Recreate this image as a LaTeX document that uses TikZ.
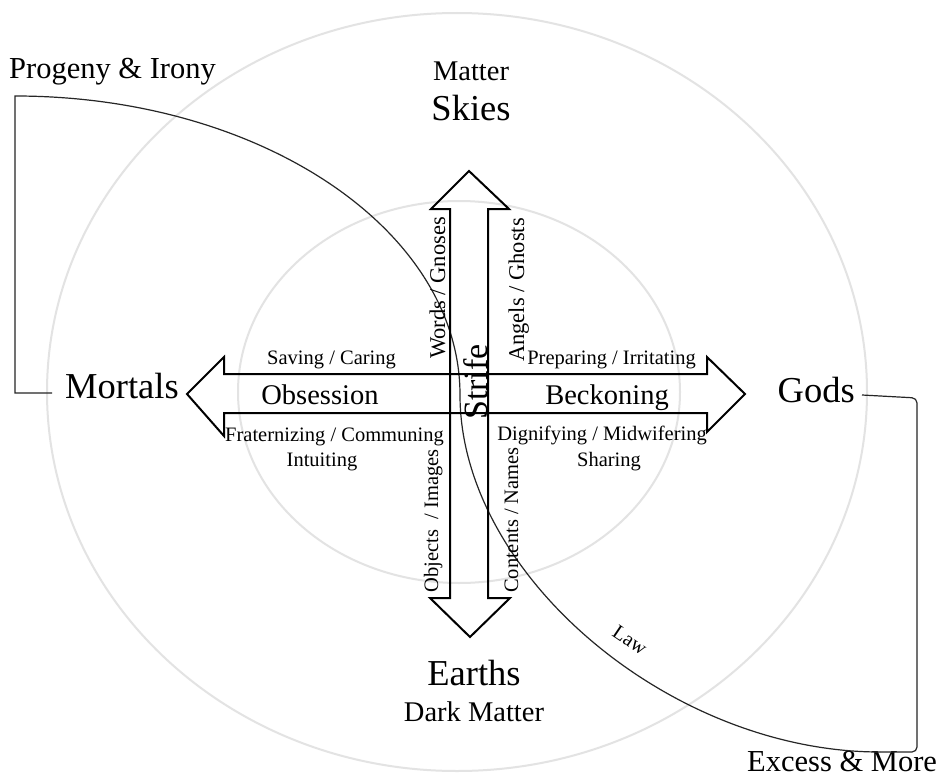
\documentclass[tikz,border=0pt]{standalone}
\usepackage{fontspec}
\setmainfont{Liberation Serif}
\begin{document}
\begin{tikzpicture}[x=1pt,y=-1pt,
  ring/.style={draw=black!11, line width=2pt},
  blockarrow/.style={draw=black, line width=2pt, line join=miter},
  link/.style={draw=black!85, line width=1.2pt},
  biglabel/.style={font=\fontsize{36.5}{40}\selectfont, inner sep=0pt},
  cornerlabel/.style={font=\fontsize{30.5}{34}\selectfont, inner sep=0pt},
  midlabel/.style={font=\fontsize{28.5}{32}\selectfont, inner sep=0pt},
  smalllabel/.style={font=\fontsize{20.5}{24}\selectfont, inner sep=0pt},
  uplabel/.style={font=\fontsize{22.5}{26}\selectfont, inner sep=0pt},
  strifelabel/.style={font=\fontsize{34}{38}\selectfont, inner sep=0pt}]
\useasboundingbox (0,0) rectangle (942,776);
\fill[white] (0,0) rectangle (942,776);

% rings
\draw[ring] (457,392) ellipse [x radius=410, y radius=379];
\draw[ring] (459,392) ellipse [x radius=221, y radius=191];

% labels
\node[cornerlabel, anchor=base west] (progeny) at (9,78) {Progeny \& Irony};
\node[midlabel, anchor=base] (matter) at (471,81) {Matter};
\node[biglabel, anchor=base] (skies) at (471,120) {Skies};
\node[biglabel, anchor=base west] (mortals) at (65,398) {Mortals};
\node[biglabel, anchor=base east] (gods) at (855,402) {Gods};
\node[biglabel, anchor=base] (earths) at (474,685) {Earths};
\node[midlabel, anchor=base] (darkmatter) at (474,721) {Dark Matter};
\node[cornerlabel, anchor=base west] (excess) at (747,771) {Excess \& More};

% connector coordinates
\coordinate (mortalsend) at (52,393);
\coordinate (godsend) at (862,395);
\coordinate (ltop) at (15,96);
\coordinate (lowend) at (880,752);

% the long connector
\draw[link] (mortalsend) -- (15,393) -- (ltop)
  arc[start angle=270, end angle=360, x radius=445, y radius=299]
  .. controls (460,574) and (670,752) .. (lowend);
\draw[link, rounded corners=5pt] (lowend) -- (917,752) -- (917,398) -- (godsend);

% block arrows
\draw[blockarrow] (224,374) -- (707,374) -- (707,357) -- (745,394) -- (707,432)
  -- (707,413) -- (224,413) -- (224,436) -- (187,394) -- (224,357) -- cycle;
\draw[blockarrow] (450,209) -- (431,209) -- (469,171) -- (509,209) -- (488,209)
  -- (488,598) -- (510,598) -- (470,637) -- (430,598) -- (450,598) -- cycle;

% arrow texts
\node[midlabel, anchor=base] (obsession) at (320,404) {Obsession};
\node[midlabel, anchor=base] (beckoning) at (607,404) {Beckoning};
\node[strifelabel, anchor=base, rotate=90] (strife) at (487,382) {Strife};

\node[smalllabel, anchor=base west] (saving) at (267,364) {Saving / Caring};
\node[smalllabel, anchor=base east] (preparing) at (696,364) {Preparing / Irritating};
\node[smalllabel, anchor=base west] (fraternizing) at (225,441) {Fraternizing / Communing};
\node[smalllabel, anchor=base east] (dignifying) at (707,440) {Dignifying / Midwifering};
\node[smalllabel, anchor=base] (intuiting) at (322,466) {Intuiting};
\node[smalllabel, anchor=base] (sharing) at (609,466) {Sharing};

\node[uplabel, anchor=base, rotate=90] (words) at (445,288) {Words / Gnoses};
\node[uplabel, anchor=base, rotate=90] (angels) at (524,290) {Angels / Ghosts};
\node[smalllabel, anchor=base, rotate=90] (objects) at (438,521) {Objects~ / Images};
\node[smalllabel, anchor=base, rotate=90] (contents) at (518,520) {Contents / Names};

\node[smalllabel, rotate=-34] (law) at (630,640) {Law};
\end{tikzpicture}
\end{document}
